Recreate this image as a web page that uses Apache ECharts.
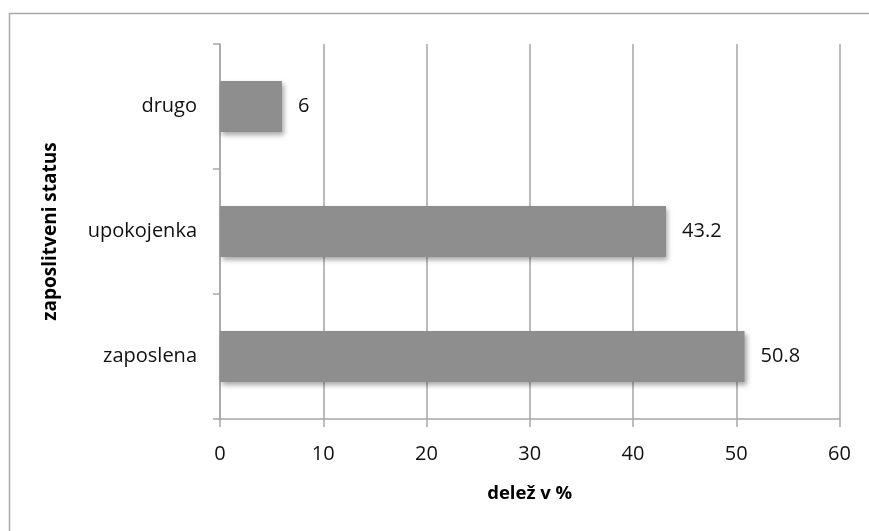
<!DOCTYPE html>
<html>
<head>
<meta charset="utf-8">
<script src="https://cdn.jsdelivr.net/npm/echarts@6/dist/echarts.min.js"></script>
<style>
  html, body { margin: 0; padding: 0; background: #fff; }
  #chart { width: 869px; height: 531px; }
</style>
</head>
<body>
<div id="chart"></div>
<script>
// Employment status shares (%)
const categories = ['zaposlena', 'upokojenka', 'drugo'];
const shares = [50.8, 43.2, 6];
const xTicks = [0, 10, 20, 30, 40, 50, 60];

const FONT = '"Open Sans", "Liberation Sans", sans-serif';
const AXIS_GRAY = '#a6a6a6';

const chart = echarts.init(document.getElementById('chart'), null, { renderer: 'canvas' });

chart.setOption({
  backgroundColor: '#ffffff',
  animation: false,
  graphic: [{
    type: 'rect',
    shape: { x: 9.5, y: 13.5, width: 900, height: 600 },
    style: { fill: 'none', stroke: '#a9a9a9', lineWidth: 1.5 },
    silent: true
  }],
  grid: { left: 220, right: 29.5, top: 44, bottom: 112, containLabel: false },
  xAxis: {
    type: 'value',
    min: xTicks[0],
    max: xTicks[xTicks.length - 1],
    interval: 10,
    name: 'delež v %',
    nameLocation: 'middle',
    nameGap: 65,
    nameTextStyle: { fontFamily: FONT, fontSize: 18.5, fontWeight: 'bold', color: '#000' },
    axisLine: { show: true, lineStyle: { color: AXIS_GRAY, width: 1.5 } },
    axisTick: { show: true, length: 8, inside: false, lineStyle: { color: AXIS_GRAY, width: 1.5 } },
    axisLabel: { margin: 25, fontFamily: FONT, fontSize: 20, color: '#111' },
    splitLine: { show: true, lineStyle: { color: AXIS_GRAY, width: 1.5 } }
  },
  yAxis: {
    type: 'category',
    data: categories,
    boundaryGap: true,
    name: 'zaposlitveni status',
    nameLocation: 'middle',
    nameGap: 160,
    nameRotate: 90,
    nameTextStyle: { fontFamily: FONT, fontSize: 19, fontWeight: 'bold', color: '#000' },
    axisLine: { show: true, lineStyle: { color: AXIS_GRAY, width: 1.5 } },
    axisTick: { show: true, length: 7, inside: false, alignWithLabel: false, lineStyle: { color: AXIS_GRAY, width: 1.5 } },
    axisLabel: { margin: 23, fontFamily: FONT, fontSize: 20, color: '#111' },
    splitLine: { show: false }
  },
  series: [{
    type: 'bar',
    data: shares,
    barWidth: 51,
    itemStyle: {
      color: '#8e8e8e',
      shadowColor: 'rgba(0,0,0,0.35)',
      shadowBlur: 5,
      shadowOffsetX: 2,
      shadowOffsetY: 3
    },
    label: {
      show: true,
      position: 'right',
      distance: 16,
      fontFamily: FONT,
      fontSize: 20,
      color: '#111',
      formatter: p => String(p.value)
    }
  }]
});
</script>
</body>
</html>
